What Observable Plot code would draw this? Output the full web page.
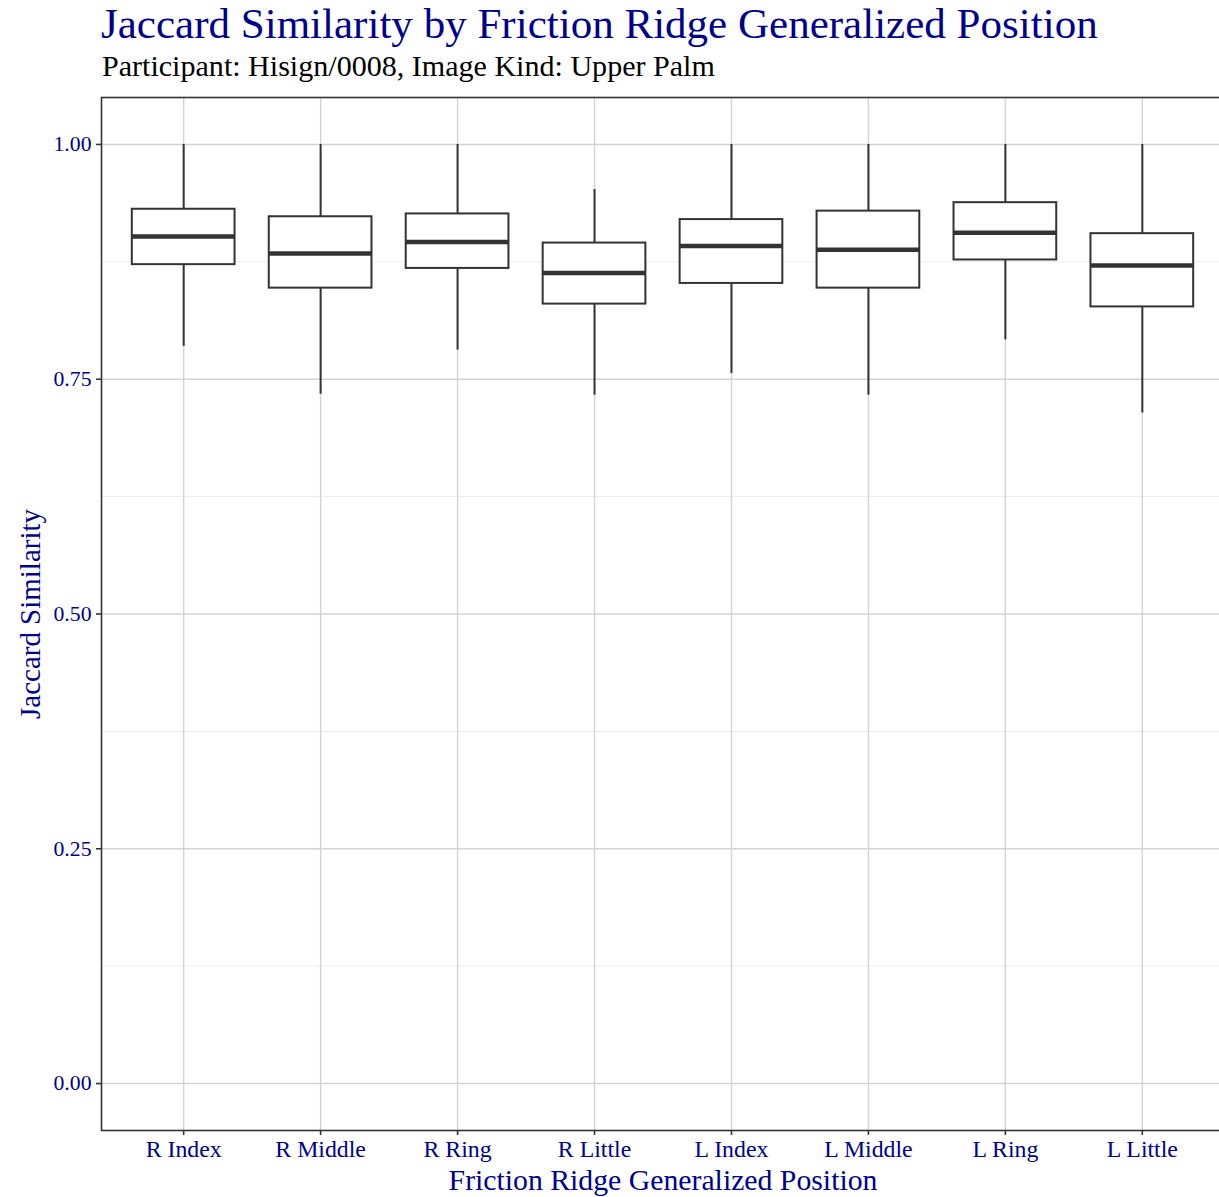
<!DOCTYPE html>
<html><head><meta charset="utf-8">
<script src="https://cdn.jsdelivr.net/npm/d3@7"></script>
<script src="https://cdn.jsdelivr.net/npm/@observablehq/plot@0.6"></script>
<style>
html,body{margin:0;padding:0;background:#fff;overflow:hidden;width:1219px;height:1197px;}
#wrap{position:relative;width:1219px;height:1197px;overflow:hidden;background:#fff;}
.t{position:absolute;white-space:nowrap;font-family:"Liberation Serif",serif;line-height:1;margin:0;}
#chart{position:absolute;left:0;top:85px;width:1230px;height:1112px;}
#chart svg{max-width:none !important;}
</style></head><body>
<div id="wrap"><div id="title" class="t"></div><div id="subtitle" class="t"></div><div id="chart"></div></div>
<script>
// ---- data ----
const positions = ["R Index","R Middle","R Ring","R Little","L Index","L Middle","L Ring","L Little"];
const whiskerLow    = [0.785,0.734,0.781,0.733,0.756,0.733,0.792,0.714];
const lowerQuartile = [0.872,0.847,0.868,0.830,0.852,0.847,0.877,0.827];
const median        = [0.902,0.884,0.896,0.863,0.892,0.888,0.906,0.871];
const upperQuartile = [0.931,0.923,0.926,0.895,0.920,0.929,0.938,0.905];
const whiskerHigh   = [1.000,1.000,1.000,0.952,1.000,1.000,1.000,1.000];
const yTicks = [0, 0.25, 0.5, 0.75, 1];
const yMinorTicks = [0.125, 0.375, 0.625, 0.875];
const titleText = "Jaccard Similarity by Friction Ridge Generalized Position";
const subtitleText = "Participant: Hisign/0008, Image Kind: Upper Palm";
const xLabel = "Friction Ridge Generalized Position";
const yLabel = "Jaccard Similarity";

// ---- layout helpers ----
const FONT = '"Liberation Serif"';
const ctx = document.createElement("canvas").getContext("2d");
function fit(text, target) { ctx.font = `100px ${FONT}`; return 100 * target / ctx.measureText(text).width; }

const titleSize = fit(titleText, 997);
const subSize = fit(subtitleText, 613);
const yTickSize = fit("1.00", 38);
const xTickSize = fit("R Index", 76);
const xLabSize = fit(xLabel, 429);
const yLabSize = fit(yLabel, 210);

function placeText(el, text, size, left, baseline, color) {
  el.textContent = text;
  el.style.fontSize = size + "px";
  el.style.color = color;
  el.style.left = left + "px";
  el.style.top = (baseline - (0.891 + (1 - 1.107) / 2) * size) + "px";
}
placeText(document.getElementById("title"), titleText, titleSize, 101, 38, "darkblue");
placeText(document.getElementById("subtitle"), subtitleText, subSize, 102, 76, "black");

const rows = positions.map((p, i) => ({
  pos: p, lo: whiskerLow[i], q1: lowerQuartile[i], med: median[i], q3: upperQuartile[i], hi: whiskerHigh[i]
}));

const chart = Plot.plot({
  width: 1230, height: 1112,
  marginLeft: 101, marginRight: 6, marginTop: 12, marginBottom: 67,
  style: {fontFamily: "Liberation Serif", background: "white", overflow: "visible", maxWidth: "none"},
  x: {type: "band", domain: positions, paddingInner: 0.25, paddingOuter: 0.225, align: 0.5, round: false, label: null},
  y: {domain: [-0.05, 1.05], label: null},
  marks: [
    Plot.gridY(yMinorTicks, {stroke: "#ebebeb", strokeOpacity: 1, strokeWidth: 1}),
    Plot.gridY(yTicks, {stroke: "#d3d3d3", strokeOpacity: 1, strokeWidth: 1.4}),
    Plot.gridX(positions, {stroke: "#d3d3d3", strokeOpacity: 1, strokeWidth: 1.4}),
    Plot.ruleX(rows, {x: "pos", y1: "lo", y2: "q1", stroke: "#333333", strokeWidth: 2}),
    Plot.ruleX(rows, {x: "pos", y1: "q3", y2: "hi", stroke: "#333333", strokeWidth: 2}),
    Plot.barY(rows, {x: "pos", y1: "q1", y2: "q3", fill: "white", stroke: "#333333", strokeWidth: 2, insetLeft: 0, insetRight: 0}),
    Plot.tickY(rows, {x: "pos", y: "med", stroke: "#333333", strokeWidth: 4.5}),
    Plot.frame({stroke: "#333333", strokeWidth: 1.6}),
    Plot.axisY(yTicks, {tickFormat: d3.format(".2f"), tickSize: 5, tickPadding: 5, fontSize: yTickSize,
      fill: "darkblue", stroke: "#333333", strokeWidth: 1.6, label: null}),
    Plot.axisX(positions, {tickSize: 5, tickPadding: 5, fontSize: xTickSize,
      fill: "darkblue", stroke: "#333333", strokeWidth: 1.6, label: null}),
    Plot.text([xLabel], {text: d => d, frameAnchor: "bottom", lineAnchor: "middle", textAnchor: "middle", dy: 50, fontSize: xLabSize, fill: "darkblue"}),
    Plot.text([yLabel], {text: d => d, frameAnchor: "left", lineAnchor: "middle", textAnchor: "middle", dx: -71, rotate: -90, fontSize: yLabSize, fill: "darkblue"})
  ]
});
document.getElementById("chart").appendChild(chart);
</script>
</body></html>
